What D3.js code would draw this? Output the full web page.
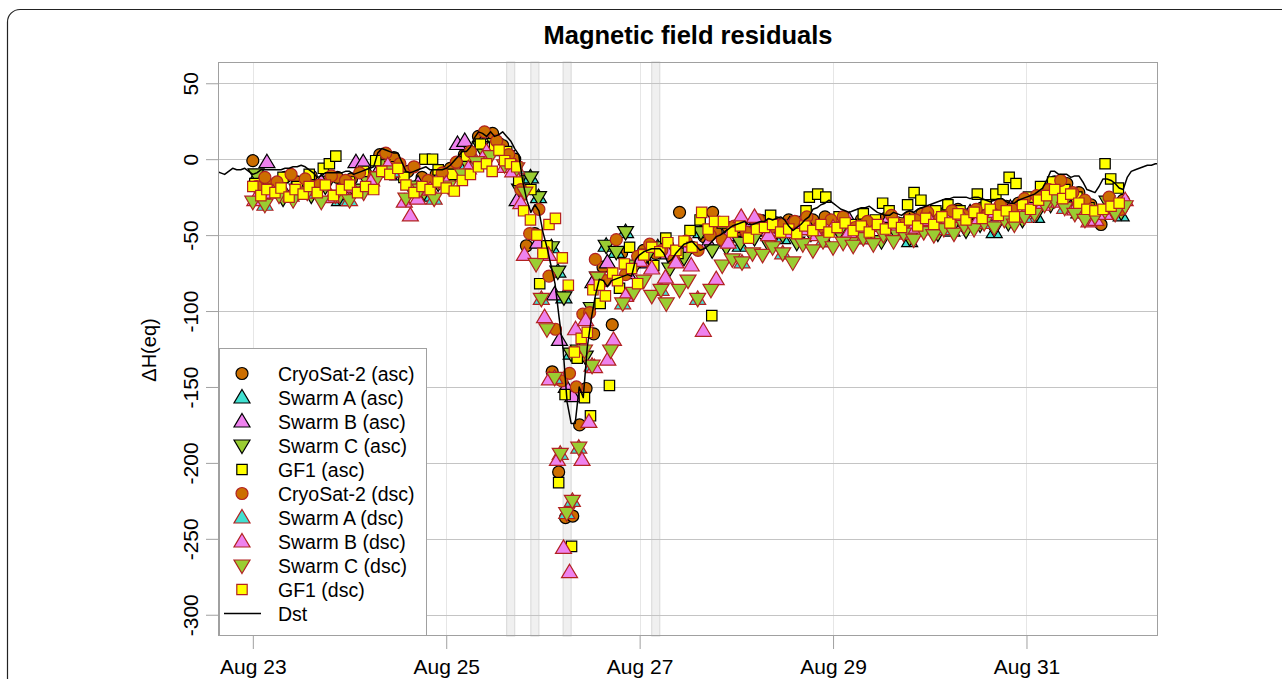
<!DOCTYPE html>
<html><head><meta charset="utf-8">
<script src="https://cdn.jsdelivr.net/npm/d3@7"></script>
<style>
body{margin:0;background:#fff;}
svg{display:block;font-family:"Liberation Sans",Arial,Helvetica,sans-serif;}
</style>
</head><body>
<svg id="chart" width="1282" height="679"></svg>
<script>
// ---------------- DATA (hours since 2018-08-23 00:00 UT, residual nT) ----------------
const dstStartHour = -9; // hourly Dst, first value at this hour
const dstValues = [
 -8,-9,-10,-8,-6,-7,-7,-6,-8,
 -10,-9,-7,-7,-7,-7,-7,-7,-6,-6,
 -5,-5,-4,-5,-7,-9,-12,-11,-9,-9,
 -9,-9,-9,-8,-8,-10,-9,-8,-7,-6,
 -5,4,7,6,5,4,4,-2,-8,-9,
 -8,-7,-6,-5,-7,-7,-7,-7,-6,-4,
 -1,2,5,5,8,14,18,17,15,18,
 15,16,18,15,12,7,3,-15,-27,-35,
 -30,-34,-48,-58,-70,-82,-104,-125,-160,-174,
 -174,-150,-157,-124,-105,-90,-79,-80,-84,-80,
 -79,-78,-77,-76,-77,-66,-63,-61,-60,-59,
 -59,-59,-62,-68,-66,-62,-59,-56,-55,-54,
 -57,-60,-59,-57,-54,-51,-50,-48,-46,-44,
 -43,-42,-41,-43,-43,-42,-41,-41,-39,-40,
 -39,-38,-40,-44,-47,-45,-43,-40,-38,-33,
 -32,-30,-29,-27,-29,-31,-33,-34,-35,-34,
 -33,-32,-32,-31,-33,-35,-36,-37,-37,-35,
 -36,-37,-35,-34,-35,-33,-32,-31,-30,-29,
 -28,-27,-26,-26,-25,-25,-25,-25,-26,-25,
 -25,-26,-27,-28,-27,-26,-26,-28,-29,-29,
 -27,-26,-25,-24,-23,-21,-19,-14,-8,-8,
 -10,-10,-10,-12,-11,-11,-15,-20,-21,-22,
 -18,-13,-13,-14,-16,-19,-20,-12,-8,-7,
 -6,-5,-4,-4,-3,-3
];

const cryoAsc = [[0,-1],[1.5,-14],[4.5,-17],[8,-12],[11,-15],[14.5,-11],[18,-15],[21,-12],[24.5,-13],[28,-9],[31.5,3],[35,1],[38.5,-8],[42,-12],[45.5,-10],[49,-6],[52.5,3],[56,15],[59.5,17],[62,9],[65,0],[67.9,-57],[70,-49],[72.3,-62],[74.3,-140],[75.9,-206],[77.6,-236],[79.4,-235],[81.1,-175],[82.7,-151],[84.6,-115],[86.9,-71],[89.2,-109],[91.5,-62],[94,-72],[97,-60],[100,-62],[103,-57],[105.9,-35],[109,-58],[112,-51],[114.1,-35],[115,-48],[118,-45],[121,-47],[124,-43],[127,-41],[130,-42],[133,-40],[136,-45],[139,-40],[142,-38],[145,-42],[148,-44],[151,-40],[154,-43],[157,-39],[160,-42],[163,-38],[166,-36],[169,-38],[172,-35],[175,-33],[178,-36],[181,-32],[184,-34],[187,-31],[190,-29],[193,-27],[196,-19],[199,-15],[202,-16],[205,-22],[208,-30],[210.5,-43],[213,-30],[216,-27]];

const swarmAAsc = [[0.8,-12],[11,-22],[21.5,-27],[32,-6],[42.5,-24],[53,-4],[63,0],[68.9,-12],[70.9,-25],[74.1,-58],[75.7,-74],[77.2,-91],[79,-128],[80.8,-126],[87.7,-57],[90.2,-61],[92.5,-48],[100.5,-58],[111.2,-48],[121,-57],[131.5,-52],[142,-54],[152.5,-52],[163,-54],[173.5,-47],[184,-48],[194.5,-38],[205,-35],[215.5,-37]];

const swarmBAsc = [[3.5,-2],[7,-18],[12,-22],[17,-15],[22,-20],[25.6,-2],[27.4,-2],[31,-8],[36,-10],[41,-16],[46,-12],[50.8,10],[52.6,12],[56.7,10],[61,6],[65.6,-27],[70.7,-55],[74.9,-89],[76.1,-119],[77.8,-150],[79.4,-156],[84.4,-81],[88,-68],[93,-75],[98,-68],[103,-62],[108,-58],[113,-55],[118,-50],[123,-46],[128,-47],[133,-44],[138,-45],[143,-42],[148,-40],[153,-44],[158,-38],[163,-41],[168,-38],[173,-36],[178,-35],[183,-37],[188,-32],[193,-30],[198,-22],[203,-24],[208,-38],[213,-30]];

const swarmCAsc = [[0.8,-10],[4,-22],[7.5,-26],[11,-20],[14.5,-24],[18,-18],[21.5,-25],[25,-20],[28.5,-15],[32,-4],[35.5,-8],[39,-18],[42.5,-22],[46,-16],[49.5,-12],[53,-2],[56.5,8],[60,10],[63,2],[66.2,-20],[68.9,-12],[70.9,-25],[74.1,-58],[75.7,-74],[77.2,-91],[79,-128],[80.8,-126],[82.5,-130],[84,-98],[85.5,-78],[87.7,-57],[90.2,-61],[92.5,-48],[95,-70],[98,-63],[100.5,-58],[103.5,-72],[107,-65],[111.2,-48],[114,-60],[117.5,-58],[121,-55],[124.5,-52],[128,-56],[131.5,-50],[135,-55],[138.5,-49],[142,-52],[145.5,-48],[149,-53],[152.5,-50],[156,-54],[159.5,-48],[163,-52],[166.5,-46],[170,-49],[173.5,-45],[177,-47],[180.5,-43],[184,-46],[187.5,-42],[191,-40],[194.5,-36],[198,-30],[201.5,-28],[205,-33],[208.5,-38],[212,-28],[215.5,-35]];

const gf1Asc = [[0.5,-16],[4,-20],[7.5,-12],[11,-18],[14,-10],[17.5,-6],[19,-3],[20.6,2],[24,-15],[27.5,-8],[30.5,-1],[34,-5],[37.5,-12],[42.7,0],[44.6,0],[46,-7],[49.5,-10],[53,2],[56.5,10],[60,8],[63,5],[66,-14],[69,-20],[71.2,-82],[73,-57],[75.9,-213],[77.5,-155],[79.1,-255],[80.5,-131],[82.3,-157],[83.8,-169],[86.2,-95],[88.5,-149],[91,-85],[93.5,-58],[96.5,-65],[99.5,-70],[102.5,-52],[105.5,-62],[108.5,-47],[111,-40],[113.9,-103],[116.5,-42],[119.5,-45],[122.5,-48],[125.5,-40],[128.5,-37],[131.5,-44],[134.5,-41],[137.3,-34],[138.1,-25],[140.2,-23],[142.2,-25],[145.5,-38],[148.5,-43],[151.5,-36],[154.5,-40],[156.3,-29],[157.9,-34],[160.5,-42],[162.5,-30],[164.1,-22],[165.8,-27],[169.5,-34],[172.5,-30],[175.5,-34],[179.8,-23],[182,-30],[184.4,-23],[186.2,-20],[187.7,-12],[189.4,-16],[192.5,-25],[195.5,-18],[198.5,-15],[201.5,-20],[204.5,-25],[207.5,-32],[211.5,-3],[212.9,-13],[214.8,-19]];

const cryoDsc = [[1,-18],[3,-12],[6,-15],[9.5,-10],[13,-13],[16.5,-17],[19.5,-11],[23,-14],[26.5,-9],[30,-12],[33,4],[36.5,-3],[40,-5],[43.5,-14],[47,-9],[50.5,-2],[54,5],[57.5,18],[60.5,12],[63.5,3],[66.5,-20],[68.7,-49],[71,-33],[73.5,-77],[75.1,-112],[76.7,-146],[78.6,-141],[80.3,-150],[81.9,-102],[83.6,-101],[85,-66],[87.5,-80],[90.2,-53],[92.5,-76],[95.5,-64],[98.5,-56],[101.5,-60],[104.5,-66],[107.5,-54],[110.5,-60],[113.5,-50],[116.5,-53],[119.5,-44],[122.5,-48],[125.5,-40],[128.5,-45],[131.5,-43],[134.5,-41],[137.5,-38],[140.5,-45],[143.5,-40],[146.5,-38],[149.5,-45],[152.5,-41],[155.5,-44],[158.5,-37],[161.5,-43],[164.5,-40],[167.5,-35],[170.5,-39],[173.5,-34],[176.5,-37],[179.5,-33],[182.5,-36],[185.5,-30],[188.5,-33],[191.5,-26],[194.5,-24],[197.5,-20],[200.5,-14],[203.5,-22],[206.5,-27],[209.5,-35],[212.5,-25],[215.5,-33]];

const swarmADsc = [[3,-30],[13.5,-22],[24,-27],[34.5,-8],[45,-26],[55.5,-2],[65.5,-6],[71.6,-92],[74.9,-144],[76.3,-194],[77.9,-233],[79.3,-225],[80.9,-190],[84.2,-136],[91.8,-95],[101.3,-86],[110.4,-92],[121.4,-68],[131.5,-62],[141.5,-54],[151.5,-52],[161.5,-49],[171.5,-46],[181.5,-42],[191.5,-38],[201.5,-32],[211.5,-34]];

const swarmBDsc = [[0.5,-27],[5,-22],[9.5,-24],[14.5,-20],[19.5,-25],[24.5,-18],[29.5,-14],[33.5,-4],[37.6,-28],[39.1,-37],[40.9,-26],[44,-20],[48,-16],[53.5,-6],[58,5],[62.5,-5],[64.5,-8],[66.5,-29],[67.4,-63],[72.4,-104],[73.4,-63],[73.6,-145],[75.6,-198],[77.1,-256],[78.6,-272],[80.1,-112],[81.7,-198],[82.6,-106],[83.4,-173],[84.8,-137],[88.1,-132],[89.5,-119],[92.5,-90],[96,-67],[99,-72],[102.4,-78],[105,-68],[108.8,-70],[111.8,-113],[115,-79],[118,-55],[121.2,-38],[124.5,-38],[128,-50],[132,-48],[136,-46],[140,-50],[144,-45],[148,-48],[152,-46],[156,-44],[160,-43],[164,-45],[168,-40],[172,-42],[176,-38],[180,-40],[184,-36],[188,-38],[192,-34],[196,-30],[200,-28],[204,-33],[207.5,-41],[209.2,-40],[211.5,-36],[216.5,-27]];

const swarmCDsc = [[0,-28],[3,-30],[6.5,-24],[10,-27],[13.5,-22],[17,-28],[20.5,-24],[24,-27],[27.5,-22],[31,-12],[34.5,-8],[38,-26],[41.5,-20],[45,-26],[48.5,-18],[52,-10],[55.5,-2],[59,2],[62.5,-4],[65.5,-6],[67.5,-22],[70.3,-69],[71.6,-92],[73,-112],[74.9,-144],[76.3,-194],[77.9,-233],[79.3,-225],[80.9,-190],[82.3,-126],[84.2,-136],[85.6,-78],[88.8,-126],[91.8,-95],[94.5,-88],[97,-80],[99,-90],[101.3,-86],[102.6,-95],[105.9,-86],[108,-80],[110.4,-92],[113.7,-86],[116.5,-70],[119,-66],[121.4,-68],[124,-62],[126.5,-63],[129,-58],[131.5,-62],[134,-68],[136.5,-56],[139,-60],[141.5,-54],[144,-58],[146.5,-55],[149,-57],[151.5,-52],[154,-56],[156.5,-50],[159,-54],[161.5,-49],[164,-53],[166.5,-48],[169,-50],[171.5,-46],[174,-49],[176.5,-44],[179,-46],[181.5,-42],[184,-45],[186.5,-40],[189,-43],[191.5,-38],[194,-36],[196.5,-30],[199,-27],[201.5,-32],[204,-36],[206.5,-40],[209,-38],[211.5,-34],[214,-36],[216.5,-31]];

const gf1Dsc = [[0,-18],[2,-24],[3.5,-20],[5.5,-22],[7,-19],[9,-25],[10.5,-20],[12.5,-23],[14,-18],[16,-22],[18,-17],[20,-24],[22,-20],[24,-17],[26,-22],[28,-18],[30,-20],[32,-8],[34,-10],[36,-6],[38,-17],[40,-22],[42,-18],[44,-20],[46,-15],[48,-19],[50,-21],[52,-14],[54,-10],[56,-5],[58,-3],[59.4,-8],[61.1,6],[62.5,-1],[63.9,-3],[65.5,-5],[67.2,-34],[68.9,-40],[70.5,-50],[72,-62],[73.5,-43],[75.1,-39],[76.8,-65],[78.3,-83],[79.8,-127],[81.5,-118],[83,-114],[84.4,-86],[86,-83],[87.5,-90],[89.3,-75],[90.5,-80],[92.2,-69],[94,-72],[95.5,-82],[97,-63],[99,-58],[101,-61],[103,-55],[105,-60],[107,-54],[109,-58],[111.4,-35],[113,-46],[114.6,-41],[116.8,-41],[119,-48],[121,-44],[123,-52],[125,-46],[127,-45],[129,-43],[131,-48],[133,-46],[135,-49],[137,-44],[139,-47],[141,-43],[143,-48],[145,-45],[147,-42],[149,-47],[151,-44],[153,-48],[155,-43],[157,-46],[159,-42],[161,-45],[163,-40],[165,-44],[167,-39],[169,-43],[171,-38],[173,-42],[175,-36],[177,-40],[179,-35],[181,-39],[183,-33],[185,-37],[187,-34],[189,-38],[191,-30],[193,-33],[195,-27],[197,-24],[199,-20],[201,-26],[203,-23],[205,-29],[207,-33],[209,-34],[211,-33],[213,-31],[215,-29]];

const shadedBands = [[63,65],[69,71],[77,79],[99,101]]; // hours
const yTickValues = [50,0,-50,-100,-150,-200,-250,-300];
const xTickDays = [23,25,27,29,31];
const xTickLabels = ["Aug 23","Aug 25","Aug 27","Aug 29","Aug 31"];
const seriesNames = ["CryoSat-2 (asc)","Swarm A (asc)","Swarm B (asc)","Swarm C (asc)","GF1 (asc)",
                     "CryoSat-2 (dsc)","Swarm A (dsc)","Swarm B (dsc)","Swarm C (dsc)","GF1 (dsc)"];
const seriesData = [cryoAsc, swarmAAsc, swarmBAsc, swarmCAsc, gf1Asc, cryoDsc, swarmADsc, swarmBDsc, swarmCDsc, gf1Dsc];
const seriesShape = ["circle","up","up","down","square","circle","up","up","down","square"];
const seriesFill = ["#cc6e00","#40e0d0","#ee82ee","#9acd32","#ffff00","#cc6e00","#40e0d0","#ee82ee","#9acd32","#ffff00"];
const seriesStroke = ["#000","#000","#000","#000","#000","#b22222","#b22222","#b22222","#b22222","#b22222"];

// ---------------- CHART ----------------
const svg = d3.select("#chart");
const L = 218, R = 1158, T = 62, B = 636;
const base = Date.UTC(2018, 7, 23);
const toDate = h => new Date(base + h * 3600e3);
const x = d3.scaleUtc().domain([toDate(-8.64), toDate(224.64)]).range([L, R]);
const y = d3.scaleLinear().domain([-314, 64]).range([B, T]);

// outer frame
svg.append("path")
  .attr("d", "M7.5,679 V22 A12.5,12.5 0 0 1 20,9.5 H1282")
  .attr("fill", "none").attr("stroke", "#222").attr("stroke-width", 1.2);

svg.append("defs").append("clipPath").attr("id", "clip")
  .append("rect").attr("x", L).attr("y", T).attr("width", R - L).attr("height", B - T);

// shaded bands
svg.append("g").selectAll("rect").data(shadedBands).join("rect")
  .attr("x", d => x(toDate(d[0])))
  .attr("width", d => x(toDate(d[1])) - x(toDate(d[0])))
  .attr("y", T).attr("height", B - T)
  .attr("fill", "#f0f0f0").attr("stroke", "#d8d8d8").attr("stroke-width", 1);

const xTickDates = xTickDays.map(d => new Date(Date.UTC(2018, 7, d)));

// grid
const grid = svg.append("g");
grid.selectAll("line.v").data(xTickDates).join("line").attr("class", "v")
  .attr("x1", d => Math.round(x(d)) + 0.5).attr("x2", d => Math.round(x(d)) + 0.5)
  .attr("y1", T).attr("y2", B).attr("stroke", "#e6e6e6").attr("stroke-width", 1);
grid.selectAll("line.h").data(yTickValues).join("line").attr("class", "h")
  .attr("x1", L).attr("x2", R)
  .attr("y1", d => Math.round(y(d)) + 0.5).attr("y2", d => Math.round(y(d)) + 0.5)
  .attr("stroke", "#c4c4c4").attr("stroke-width", 1);

// markers
function shapePath(s) {
  if (s === "up") return "M0,-8L8,5.5L-8,5.5Z";
  if (s === "down") return "M0,8L8,-5.5L-8,-5.5Z";
  if (s === "square") return "M-5.2,-5.2H5.2V5.2H-5.2Z";
  return null;
}
function drawMarker(g, s, fill, stroke) {
  if (s === "circle") {
    g.append("circle").attr("r", 6).attr("fill", fill).attr("stroke", stroke).attr("stroke-width", 1.2);
  } else {
    g.append("path").attr("d", shapePath(s)).attr("fill", fill).attr("stroke", stroke)
      .attr("stroke-width", 1.2).attr("stroke-linejoin", "miter");
  }
}

const plot = svg.append("g").attr("clip-path", "url(#clip)");
seriesData.forEach((data, i) => {
  const g = plot.append("g");
  data.forEach(p => {
    const m = g.append("g").attr("transform", `translate(${x(toDate(p[0]))},${y(p[1])})`);
    drawMarker(m, seriesShape[i], seriesFill[i], seriesStroke[i]);
  });
});

// Dst line
const dstPoints = dstValues.map((v, i) => [dstStartHour + i, v]);
plot.append("path").datum(dstPoints)
  .attr("d", d3.line().x(d => x(toDate(d[0]))).y(d => y(d[1])))
  .attr("fill", "none").attr("stroke", "#000").attr("stroke-width", 1.5).attr("stroke-linejoin", "round");

// box
svg.append("rect").attr("x", L + 0.5).attr("y", T + 0.5).attr("width", R - L - 1).attr("height", B - T - 1)
  .attr("fill", "none").attr("stroke", "#a0a0a0").attr("stroke-width", 1);

// y axis
const yAxis = svg.append("g").attr("transform", `translate(${L},0)`)
  .call(d3.axisLeft(y).tickValues(yTickValues).tickSize(12).tickFormat(d => String(d)));
yAxis.select(".domain").remove();
yAxis.selectAll(".tick line").attr("stroke", "#a0a0a0");
yAxis.selectAll(".tick text")
  .attr("x", null).attr("dy", null)
  .attr("transform", "translate(-20,0) rotate(-90)")
  .attr("text-anchor", "middle").attr("fill", "#000")
  .style("font-size", "21px").style("font-family", "'Liberation Sans',Arial,sans-serif");

// x axis
const xAxis = svg.append("g").attr("transform", `translate(0,${B})`)
  .call(d3.axisBottom(x).tickValues(xTickDates).tickSize(13).tickFormat((d, i) => xTickLabels[i]));
xAxis.select(".domain").remove();
xAxis.selectAll(".tick line").attr("stroke", "#a0a0a0");
xAxis.selectAll(".tick text").attr("y", 38).attr("dy", null).attr("fill", "#000")
  .style("font-size", "21px").style("font-family", "'Liberation Sans',Arial,sans-serif");

// y label
svg.append("text").attr("transform", "translate(156,350) rotate(-90)")
  .attr("text-anchor", "middle").style("font-size", "20px").text("ΔH(eq)");

// title
svg.append("text").attr("x", (L + R) / 2).attr("y", 44).attr("text-anchor", "middle")
  .style("font-size", "25.5px").style("font-weight", "bold").text("Magnetic field residuals");

// legend
const lg = svg.append("g");
lg.append("rect").attr("x", 219.5).attr("y", 348.5).attr("width", 207).attr("height", 287)
  .attr("fill", "#fff").attr("stroke", "#a0a0a0").attr("stroke-width", 1);
const legendNames = seriesNames.concat(["Dst"]);
legendNames.forEach((name, i) => {
  const cy = 373.5 + i * 24;
  if (i < 10) {
    const m = lg.append("g").attr("transform", `translate(242,${cy})`);
    drawMarker(m, seriesShape[i], seriesFill[i], seriesStroke[i]);
  } else {
    lg.append("line").attr("x1", 224).attr("x2", 261).attr("y1", cy).attr("y2", cy)
      .attr("stroke", "#000").attr("stroke-width", 1.5);
  }
  lg.append("text").attr("x", 278).attr("y", cy + 7).style("font-size", "19.5px").text(name);
});
</script>
</body></html>
